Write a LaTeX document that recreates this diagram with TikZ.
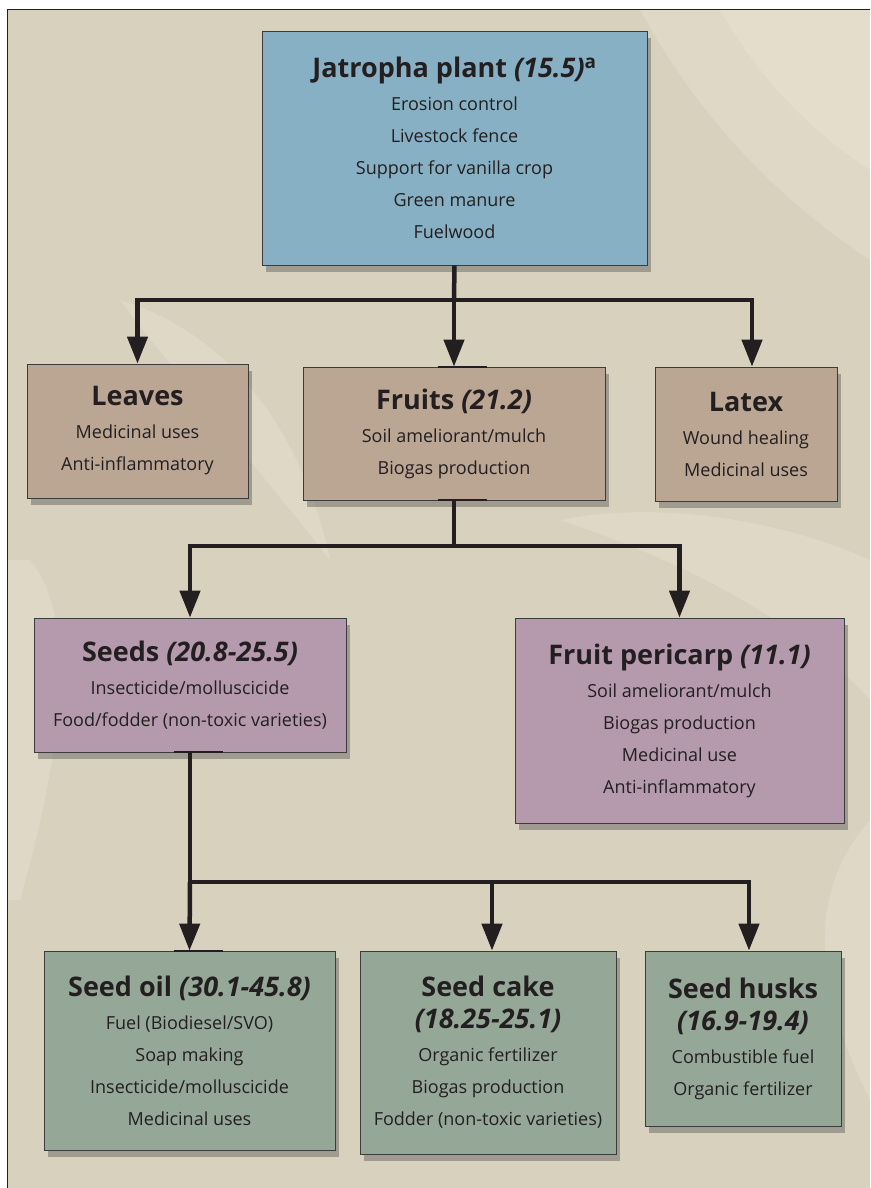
\documentclass[tikz,border=0pt]{standalone}
\usepackage{fontspec}
\setmainfont{Open Sans}
\usetikzlibrary{arrows.meta,shadows}
\definecolor{bg}{HTML}{D8D1BE}
\definecolor{bglight}{HTML}{F3ECDC}
\definecolor{cblue}{HTML}{88B0C4}
\definecolor{cbrown}{HTML}{BBA694}
\definecolor{cpurple}{HTML}{B59AAD}
\definecolor{cgreen}{HTML}{95A898}
\definecolor{cedge}{HTML}{3C3C3C}
\definecolor{ink}{HTML}{231F20}
\newcommand{\boxttl}[1]{{\fontsize{27}{33}\selectfont\bfseries #1}}
\tikzset{
  box/.style={draw=cedge, line width=0.8pt, align=center, text=ink,
    font=\fontsize{18}{32}\selectfont, inner sep=0pt,
    drop shadow={shadow xshift=4pt, shadow yshift=-7pt, opacity=0.4, fill=black!70}},
  conn/.style={line width=4.5pt, draw=ink},
  arr/.style={conn, -{Triangle[length=27pt,width=20pt]}},
  tick/.style={line width=2pt, draw=ink},
  patch/.style={fill=bglight, opacity=0.28},
}
\begin{document}
\begin{tikzpicture}[x=1pt,y=-1pt]
\useasboundingbox (0,0) rectangle (870,1188);
\fill[white] (0,0) rectangle (870,1188);
\fill[bg] (7.5,9.5) rectangle (870,1188);
% faint light patches suggesting the photo behind
\begin{scope}
\clip (7.5,9.5) rectangle (870,1188);
\fill[patch] (870,9.5) -- (640,9.5) .. controls (700,120) and (780,200) .. (870,260) -- cycle;
\fill[patch] (870,9.5) -- (720,9.5) .. controls (760,80) and (810,130) .. (870,170) -- cycle;
\fill[patch] (120,300) .. controls (220,330) and (300,420) .. (330,560) .. controls (260,470) and (180,380) .. (120,300) -- cycle;
\fill[patch] (560,520) .. controls (680,560) and (800,620) .. (870,700) -- (870,560) .. controls (780,520) and (660,500) .. (560,520) -- cycle;
\fill[patch] (870,820) .. controls (800,900) and (820,1000) .. (870,1100) -- cycle;
\fill[patch] (30,560) .. controls (80,620) and (60,760) .. (20,900) -- (7.5,900) -- (7.5,560) -- cycle;
\end{scope}
\draw[line width=1.5pt, draw=ink] (7.5,1188) -- (7.5,9.5) -- (870,9.5);

% boxes
\node[box, fill=cblue, minimum width=385pt, minimum height=234pt] (jat) at (454.5,148)
  {\boxttl{Jatropha plant \textit{(15.5)}\textsuperscript{a}}\\[1pt]
   Erosion control\\ Livestock fence\\ Support for vanilla crop\\ Green manure\\ Fuelwood};
\node[box, fill=cbrown, minimum width=221pt, minimum height=134pt] (leaves) at (137.5,431)
  {\boxttl{Leaves}\\[1pt] Medicinal uses\\ Anti-inflammatory};
\node[box, fill=cbrown, minimum width=302pt, minimum height=133pt] (fruits) at (454,433.5)
  {\boxttl{Fruits \textit{(21.2)}}\\[1pt] Soil ameliorant/mulch\\ Biogas production};
\node[box, fill=cbrown, minimum width=182pt, minimum height=134pt] (latex) at (746,434)
  {\boxttl{Latex}\\[1pt] Wound healing\\ Medicinal uses};
\node[box, fill=cpurple, minimum width=312pt, minimum height=134pt] (seeds) at (190,685)
  {\boxttl{Seeds \textit{(20.8-25.5)}}\\[1pt] Insecticide/molluscicide\\ Food/fodder (non-toxic varieties)};
\node[box, fill=cpurple, minimum width=329pt, minimum height=205pt] (peri) at (679.5,720.5)
  {\boxttl{Fruit pericarp \textit{(11.1)}}\\[1pt] Soil ameliorant/mulch\\ Biogas production\\ Medicinal use\\ Anti-inflammatory};
\node[box, fill=cgreen, minimum width=291pt, minimum height=199pt] (oil) at (189.5,1050.5)
  {\boxttl{Seed oil \textit{(30.1-45.8)}}\\[1pt] Fuel (Biodiesel/SVO)\\ Soap making\\ Insecticide/molluscicide\\ Medicinal uses};
\node[box, fill=cgreen, minimum width=256pt, minimum height=203pt] (cake) at (488,1052.5)
  {\boxttl{Seed cake}\\ \boxttl{\textit{(18.25-25.1)}}\\[1pt] Organic fertilizer\\ Biogas production\\ Fodder (non-toxic varieties)};
\node[box, fill=cgreen, minimum width=196pt, minimum height=175pt] (husk) at (743,1038.5)
  {\boxttl{Seed husks}\\ \boxttl{\textit{(16.9-19.4)}}\\[1pt] Combustible fuel\\ Organic fertilizer};

% connectors
\coordinate (j1) at (454,300);
\draw[conn] (jat.south) -- (j1);
\draw[arr] (j1) -| (leaves.north);
\draw[arr] (j1) -- (fruits.north);
\draw[arr] (j1) -| ([xshift=6pt]latex.north);

\coordinate (f1) at (454,546);
\draw[conn] (fruits.south) -- (f1);
\draw[arr] (f1) -| (seeds.north);
\draw[arr] (f1) -| (peri.north);

\coordinate (s1) at (190,882);
\draw[conn] (seeds.south) -- (s1);
\draw[arr] (s1) -- (oil.north);
\draw[arr] (s1) -| ([xshift=4pt]cake.north);
\draw[arr] (s1) -| ([xshift=6pt]husk.north);

% small dark ticks on box edges
\draw[tick] ([xshift=-16pt]fruits.north) -- ([xshift=33pt]fruits.north);
\draw[tick] ([xshift=-16pt]fruits.south) -- ([xshift=33pt]fruits.south);
\draw[tick] ([xshift=-16pt]seeds.south) -- ([xshift=33pt]seeds.south);
\draw[tick] ([xshift=-16pt]oil.north) -- ([xshift=33pt]oil.north);
\end{tikzpicture}
\end{document}
